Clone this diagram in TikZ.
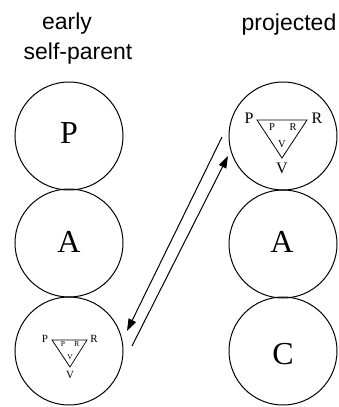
\documentclass[tikz,border=0pt]{standalone}
\usepackage{fontspec}
\setmainfont{Liberation Serif}
\setsansfont{Liberation Sans}
\usetikzlibrary{arrows.meta}
\tikzset{
  ring/.style={circle, draw, line width=1pt, minimum size=108pt, inner sep=0pt},
  big/.style={font=\fontsize{32}{32}\selectfont, inner sep=0pt},
  head/.style={font=\sffamily\fontsize{23}{23}\selectfont, inner sep=0pt, anchor=base},
  lbl/.style={inner sep=0pt},
  tri/.style={line width=0.8pt},
  link/.style={line width=1pt, -{Triangle[length=12pt,width=8pt]}}
}
\begin{document}
\begin{tikzpicture}[x=1pt,y=-1pt]
\useasboundingbox (0,0) rectangle (338,407);
% headers
\node[head] (h1) at (67,29) {early};
\node[head] (h2) at (78,59) {self-parent};
\node[head] (h3) at (289,30) {projected};
% left column
\node[ring] (l1) at (69,136) {};
\node[ring] (l2) at (69,243) {};
\node[ring] (l3) at (69,351) {};
% right column
\node[ring] (r1) at (283,136) {};
\node[ring] (r2) at (283,244) {};
\node[ring] (r3) at (283,351) {};
% letters
\node[big] (lp) at (69,133) {P};
\node[big] (la) at (69,242) {A};
\node[big] (ra) at (282,242) {A};
\node[big] (rc) at (283,354) {C};
% triangle in right top circle
\coordinate (t1a) at (257,120);
\coordinate (t1b) at (307,120);
\coordinate (t1c) at (282,158);
\draw[tri] (t1a) -- (t1b) -- (t1c) -- cycle;
\node[lbl, font=\fontsize{16}{16}\selectfont] (t1P) at (249,118) {P};
\node[lbl, font=\fontsize{16}{16}\selectfont] (t1R) at (317,118) {R};
\node[lbl, font=\fontsize{16}{16}\selectfont] (t1V) at (282,168) {V};
\node[lbl, font=\fontsize{10.5}{10.5}\selectfont] (t1p) at (272,127) {P};
\node[lbl, font=\fontsize{10.5}{10.5}\selectfont] (t1r) at (293,127) {R};
\node[lbl, font=\fontsize{10.5}{10.5}\selectfont] (t1v) at (282,144) {V};
% triangle in left bottom circle
\coordinate (t2a) at (52,340);
\coordinate (t2b) at (87,340);
\coordinate (t2c) at (70,367);
\draw[tri, line width=0.7pt] (t2a) -- (t2b) -- (t2c) -- cycle;
\node[lbl, font=\fontsize{11}{11}\selectfont] (t2P) at (45,339) {P};
\node[lbl, font=\fontsize{11}{11}\selectfont] (t2R) at (94,339) {R};
\node[lbl, font=\fontsize{11}{11}\selectfont] (t2V) at (70,375) {V};
\node[lbl, font=\fontsize{7.5}{7.5}\selectfont] (t2p) at (63,344) {P};
\node[lbl, font=\fontsize{7.5}{7.5}\selectfont] (t2r) at (77,344) {R};
\node[lbl, font=\fontsize{7.5}{7.5}\selectfont] (t2v) at (70,357) {V};
% arrows
\coordinate (a1s) at (222,137);
\coordinate (a1e) at (127,331);
\coordinate (a2s) at (132,346);
\coordinate (a2e) at (228,156);
\draw[link] (a1s) -- (a1e);
\draw[link] (a2s) -- (a2e);
\end{tikzpicture}
\end{document}
